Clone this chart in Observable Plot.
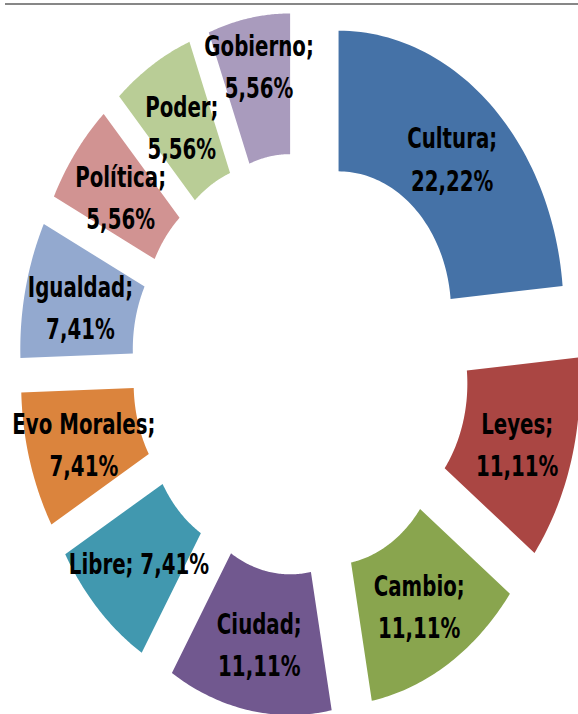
<!DOCTYPE html>
<html>
<head>
<meta charset="utf-8">
<script src="https://cdn.jsdelivr.net/npm/d3@7"></script>
<script src="https://cdn.jsdelivr.net/npm/@observablehq/plot@0.6"></script>
<style>
  html, body { margin: 0; padding: 0; background: #fff; overflow: hidden; }
  #wrap { position: relative; width: 578px; height: 714px; overflow: hidden; background: #fff; }
  #chart { position: absolute; left: 0; top: 0; transform-origin: 0 0; transform: scaleY(1.2504); }
  #rule { position: absolute; left: 5px; top: 3px; width: 573px; height: 2px; background: #878787; }
</style>
</head>
<body>
<div id="wrap"><div id="chart"></div><div id="rule"></div></div>
<script>
// ---- data ----
const categories = ["Cultura", "Leyes", "Cambio", "Ciudad", "Libre", "Evo Morales", "Igualdad", "Política", "Poder", "Gobierno"];
const values = [22.22, 11.11, 11.11, 11.11, 7.41, 7.41, 7.41, 5.56, 5.56, 5.56];
const colors = ["#4572A7", "#AA4643", "#89A54E", "#71588F", "#4198AF", "#DB843D", "#93A9CF", "#D19392", "#B9CD96", "#A99BBD"];
const oneLineLabels = ["Libre"];
const labelNudge = {"Gobierno": -19};

// ---- geometry (exploded donut) ----
const R = 225, r = 112.5, explode = 56.5, N = 60;
const total = d3.sum(values);
const rad = Math.PI / 180;
let acc = 0;
const slices = categories.map((c, i) => {
  const a0 = acc / total * 360; acc += values[i];
  const a1 = acc / total * 360;
  return {c, v: values[i], a0, a1, m: (a0 + a1) / 2};
});
const pts = [];
for (const s of slices) {
  const ox = explode * Math.sin(s.m * rad), oy = explode * Math.cos(s.m * rad);
  for (let k = 0; k <= N; k++) {
    const t = (s.a0 + (s.a1 - s.a0) * k / N) * rad;
    pts.push({cat: s.c, x: ox + R * Math.sin(t), y: oy + R * Math.cos(t)});
  }
  for (let k = N; k >= 0; k--) {
    const t = (s.a0 + (s.a1 - s.a0) * k / N) * rad;
    pts.push({cat: s.c, x: ox + r * Math.sin(t), y: oy + r * Math.cos(t)});
  }
}
const fmt = v => d3.format(".2f")(v).replace(".", ",") + "%";
const labelData = slices.map(s => {
  const rho = explode + (R + r) / 2;
  return {
    x: rho * Math.sin(s.m * rad),
    y: rho * Math.cos(s.m * rad) - (labelNudge[s.c] || 0),
    text: s.c + ";" + (oneLineLabels.includes(s.c) ? " " : "\n") + fmt(s.v)
  };
});

const chart = Plot.plot({
  width: 578,
  height: 571,
  margin: 0,
  style: {background: "#fff", overflow: "hidden"},
  x: {domain: [-300, 278], axis: null},
  y: {domain: [-280.2, 290.8], axis: null},
  color: {domain: categories, range: colors},
  marks: [
    Plot.line(pts, {x: "x", y: "y", z: "cat", fill: "cat", stroke: "none", curve: "linear"}),
    Plot.text(labelData, {
      x: "x", y: "y", text: "text",
      fontSize: 22, fontWeight: "bold", lineHeight: 1.53,
      fontFamily: "'DejaVu Sans Condensed', 'Liberation Sans Narrow', sans-serif",
      fill: "#000"
    })
  ]
});
document.getElementById("chart").appendChild(chart);
</script>
</body>
</html>
